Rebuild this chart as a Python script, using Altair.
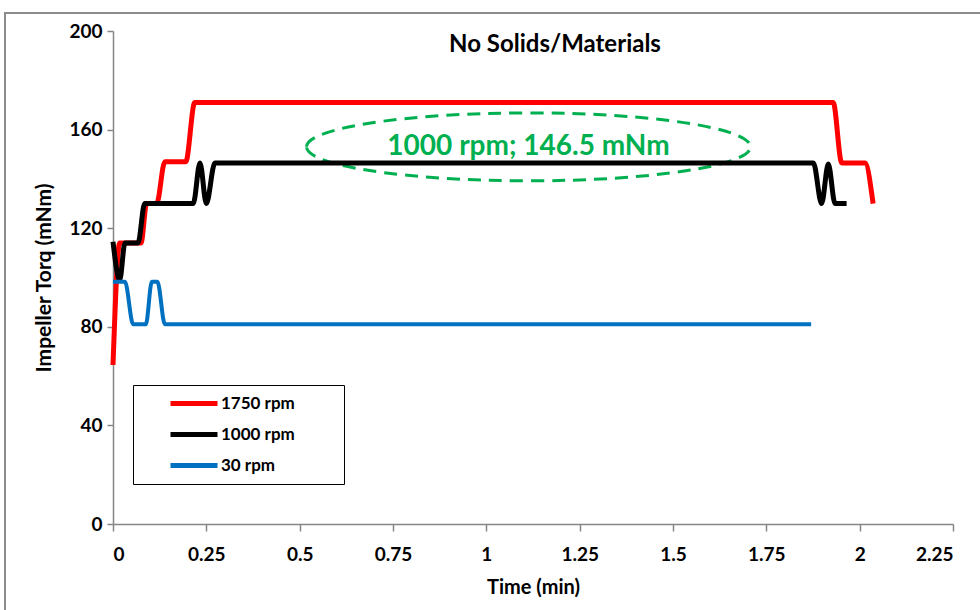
import altair as alt
import pandas as pd

series_names = ["1750 rpm", "1000 rpm", "30 rpm"]
series_colors = ["#FF0000", "#000000", "#0070C0"]
series_widths = [5, 5, 4]

t_1750 = [0, 0.018, 0.075, 0.09, 0.117, 0.139, 0.195, 0.219, 1.929, 1.952, 2.014, 2.036]
q_1750 = [64.5, 114, 114, 130, 130, 147, 147, 171, 171, 146.5, 146.5, 130]

t_1000 = [0, 0.018, 0.032, 0.067, 0.085, 0.215, 0.233, 0.25, 0.273, 1.876, 1.898, 1.916, 1.934, 1.965]
q_1000 = [114.5, 99, 114, 114, 130, 130, 146.5, 130, 146.5, 146.5, 130, 146, 130, 130]

t_30 = [0, 0.032, 0.054, 0.088, 0.104, 0.119, 0.139, 1.87]
q_30 = [98.3, 98.3, 81, 81, 98.3, 98.3, 81, 81]

x_ticks = [0, 0.25, 0.5, 0.75, 1, 1.25, 1.5, 1.75, 2, 2.25]
y_ticks = [0, 40, 80, 120, 160, 200]

note_text = ["1000 rpm; 146.5 mNm"]
note_x = [1.113]
note_y = [153]

rows = []
for name, w, ts, qs in zip(series_names, series_widths,
                           [t_1750, t_1000, t_30], [q_1750, q_1000, q_30]):
    for t, q in zip(ts, qs):
        rows.append({"Series": name, "Time": t, "Torque": q, "w": w})
df = pd.DataFrame(rows)

note_df = pd.DataFrame({"label": note_text, "x": note_x, "y": note_y})

FONT = "Lato"
GREEN = "#00B050"
GRAY = "#868686"

x_scale = alt.Scale(domain=[0, 2.25], nice=False, zero=False)
y_scale = alt.Scale(domain=[0, 200], nice=False)

lines = alt.Chart(df).mark_line(interpolate="monotone", clip=False).encode(
    x=alt.X("Time:Q", scale=x_scale,
            axis=alt.Axis(values=x_ticks, labelExpr="toString(datum.value)",
                          title="Time (min)", grid=False, tickSize=7,
                          labelPadding=14, titlePadding=13)),
    y=alt.Y("Torque:Q", scale=y_scale,
            axis=alt.Axis(values=y_ticks, format="d", title="Impeller Torq (mNm)",
                          grid=False, tickSize=6, labelPadding=5,
                          titlePadding=14, titleFontSize=21)),
    color=alt.Color("Series:N",
                    scale=alt.Scale(domain=series_names, range=series_colors),
                    sort=series_names,
                    legend=alt.Legend(title="\u00a0", titleOrient="right",
                                      titlePadding=46,
                                      orient="none", legendX=20, legendY=354,
                                      strokeColor="#000000", fillColor="#FFFFFF",
                                      padding=3, symbolOffset=32,
                                      symbolType="stroke",
                                      symbolSize=2209, symbolStrokeWidth=5,
                                      clipHeight=31,
                                      labelFontSize=17, labelFont=FONT,
                                      labelFontWeight="bold", labelColor="#000000",
                                      labelOffset=1, rowPadding=0)),
    strokeWidth=alt.StrokeWidth("w:Q", scale=None, legend=None),
    order=alt.Order("Time:Q"),
)

k = 0.153
c = 0.5523
a = c * k
ellipse_path = (
    f"M-1,0 C-1,{-a} {-c},{-k} 0,{-k} C{c},{-k} 1,{-a} 1,0 "
    f"C1,{a} {c},{k} 0,{k} C{-c},{k} -1,{a} -1,0 Z"
)

ellipse = alt.Chart(note_df).mark_point(
    shape=ellipse_path, size=444 * 444, filled=False, stroke=GREEN,
    strokeWidth=3, strokeDash=[13, 8], opacity=1,
).encode(x=alt.X("x:Q", scale=x_scale), y=alt.Y("y:Q", scale=y_scale))

note = alt.Chart(note_df).mark_text(
    font=FONT, fontSize=28, fontWeight="bold", color=GREEN, baseline="middle"
).encode(x=alt.X("x:Q", scale=x_scale), y=alt.Y("y:Q", scale=y_scale),
         text="label:N")

frame = alt.Chart(note_df).mark_rect(
    fill=None, stroke="#8C8C8C", strokeWidth=2, clip=False
).encode(x=alt.value(-108), x2=alt.value(900), y=alt.value(-18), y2=alt.value(640))

chart = alt.layer(frame, ellipse, lines, note).properties(
    width=840, height=493,
    padding={"left": 113, "top": 31, "right": 27, "bottom": 86},
    autosize=alt.AutoSizeParams(type="none"),
    title=alt.TitleParams("No Solids/Materials", anchor="middle", frame="group",
                          offset=-45, dx=22, fontSize=24, font=FONT,
                          fontWeight="bold", color="#000000"),
).configure_view(stroke=None).configure_axis(
    domainColor=GRAY, tickColor=GRAY, domainWidth=1.5, tickWidth=1.5,
    labelFont=FONT, labelFontSize=19, labelFontWeight="bold", labelColor="#000000",
    titleFont=FONT, titleFontSize=20, titleFontWeight="bold", titleColor="#000000",
)

chart.save("out.html", embed_options={"renderer": "svg", "actions": False})
